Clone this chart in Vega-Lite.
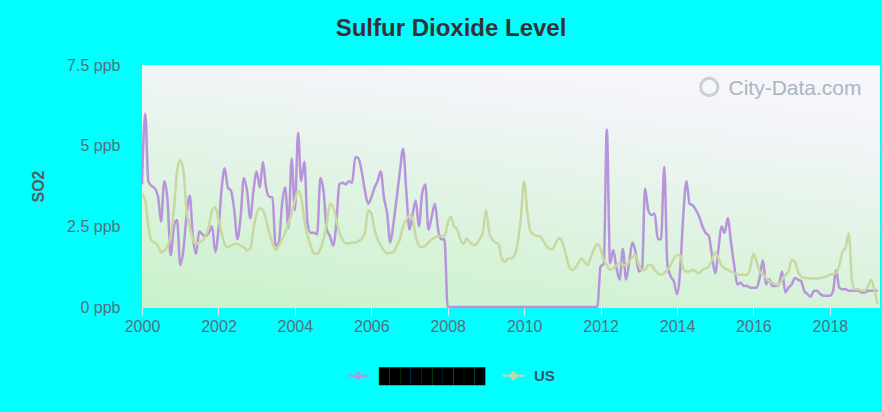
{
  "$schema": "https://vega.github.io/schema/vega-lite/v6.json",
  "width": 738,
  "height": 242,
  "autosize": {"type": "none"},
  "padding": {"left": 142, "top": 65, "right": 2, "bottom": 105},
  "background": "#00ffff",
  "config": {"font": "Liberation Sans", "view": {"stroke": null}},
  "title": {"text": "Sulfur Dioxide Level", "fontSize": 24, "fontWeight": "bold", "color": "#333333", "anchor": "middle", "dx": -60, "offset": 16},
  "data": {"values": [
    {"date":"2000-01","local":3.8,"US":3.5},{"date":"2000-02","local":6.0,"US":3.3},{"date":"2000-03","local":3.9,"US":2.5},{"date":"2000-04","local":3.75,"US":2.05},{"date":"2000-05","local":3.68,"US":2.0},{"date":"2000-06","local":3.45,"US":1.9},{"date":"2000-07","local":2.65,"US":1.7},{"date":"2000-08","local":3.9,"US":1.75},{"date":"2000-09","local":3.3,"US":1.9},{"date":"2000-10","local":1.6,"US":2.2},{"date":"2000-11","local":2.5,"US":3.0},{"date":"2000-12","local":2.7,"US":4.2},
    {"date":"2001-01","local":1.3,"US":4.55},{"date":"2001-02","local":1.8,"US":4.2},{"date":"2001-03","local":2.8,"US":3.0},{"date":"2001-04","local":3.45,"US":2.5},{"date":"2001-05","local":2.2,"US":2.1},{"date":"2001-06","local":1.65,"US":1.95},{"date":"2001-07","local":2.35,"US":2.0},{"date":"2001-08","local":2.25,"US":2.05},{"date":"2001-09","local":2.2,"US":2.2},{"date":"2001-10","local":2.3,"US":2.5},{"date":"2001-11","local":2.5,"US":3.0},{"date":"2001-12","local":1.7,"US":3.1},
    {"date":"2002-01","local":2.4,"US":2.7},{"date":"2002-02","local":3.7,"US":2.3},{"date":"2002-03","local":4.3,"US":1.95},{"date":"2002-04","local":3.7,"US":1.85},{"date":"2002-05","local":3.6,"US":1.9},{"date":"2002-06","local":3.0,"US":1.95},{"date":"2002-07","local":2.1,"US":1.95},{"date":"2002-08","local":2.8,"US":1.9},{"date":"2002-09","local":4.0,"US":1.85},{"date":"2002-10","local":3.6,"US":1.75},{"date":"2002-11","local":2.75,"US":1.8},{"date":"2002-12","local":3.6,"US":2.4},
    {"date":"2003-01","local":4.2,"US":2.9},{"date":"2003-02","local":3.7,"US":3.05},{"date":"2003-03","local":4.5,"US":3.0},{"date":"2003-04","local":3.7,"US":2.7},{"date":"2003-05","local":3.42,"US":2.3},{"date":"2003-06","local":3.4,"US":2.0},{"date":"2003-07","local":1.9,"US":1.77},{"date":"2003-08","local":2.0,"US":1.9},{"date":"2003-09","local":3.2,"US":2.1},{"date":"2003-10","local":3.7,"US":2.3},{"date":"2003-11","local":2.45,"US":2.6},{"date":"2003-12","local":4.6,"US":2.9},
    {"date":"2004-01","local":3.0,"US":3.3},{"date":"2004-02","local":5.4,"US":3.6},{"date":"2004-03","local":3.9,"US":3.4},{"date":"2004-04","local":4.5,"US":2.7},{"date":"2004-05","local":2.6,"US":2.2},{"date":"2004-06","local":2.3,"US":1.9},{"date":"2004-07","local":2.3,"US":1.65},{"date":"2004-08","local":2.25,"US":1.65},{"date":"2004-09","local":4.0,"US":1.8},{"date":"2004-10","local":3.6,"US":2.1},{"date":"2004-11","local":2.4,"US":2.6},{"date":"2004-12","local":2.2,"US":3.2},
    {"date":"2005-01","local":1.9,"US":3.1},{"date":"2005-02","local":2.6,"US":2.7},{"date":"2005-03","local":3.8,"US":2.3},{"date":"2005-04","local":3.85,"US":2.1},{"date":"2005-05","local":3.8,"US":1.97},{"date":"2005-06","local":3.9,"US":1.97},{"date":"2005-07","local":3.85,"US":2.0},{"date":"2005-08","local":4.65,"US":2.0},{"date":"2005-09","local":4.6,"US":2.05},{"date":"2005-10","local":4.2,"US":2.1},{"date":"2005-11","local":3.6,"US":2.3},{"date":"2005-12","local":3.2,"US":3.0},
    {"date":"2006-01","local":3.4,"US":2.9},{"date":"2006-02","local":3.7,"US":2.4},{"date":"2006-03","local":3.9,"US":2.1},{"date":"2006-04","local":4.2,"US":1.9},{"date":"2006-05","local":3.4,"US":1.75},{"date":"2006-06","local":2.9,"US":1.66},{"date":"2006-07","local":2.0,"US":1.68},{"date":"2006-08","local":2.6,"US":1.7},{"date":"2006-09","local":3.4,"US":1.9},{"date":"2006-10","local":4.2,"US":2.1},{"date":"2006-11","local":4.9,"US":2.5},{"date":"2006-12","local":3.6,"US":2.7},
    {"date":"2007-01","local":2.4,"US":2.85},{"date":"2007-02","local":2.9,"US":2.7},{"date":"2007-03","local":3.3,"US":2.2},{"date":"2007-04","local":2.5,"US":1.9},{"date":"2007-05","local":3.5,"US":1.85},{"date":"2007-06","local":3.8,"US":1.9},{"date":"2007-07","local":2.4,"US":2.0},{"date":"2007-08","local":2.8,"US":2.1},{"date":"2007-09","local":3.2,"US":2.15},{"date":"2007-10","local":2.4,"US":2.2},{"date":"2007-11","local":2.1,"US":2.2},{"date":"2007-12","local":2.1,"US":2.2},
    {"date":"2008-01","local":0,"US":2.6},{"date":"2008-02","local":0,"US":2.8},{"date":"2008-03","local":0,"US":2.5},{"date":"2008-04","local":0,"US":2.4},{"date":"2008-05","local":0,"US":2.1},{"date":"2008-06","local":0,"US":1.95},{"date":"2008-07","local":0,"US":2.13},{"date":"2008-08","local":0,"US":2.0},{"date":"2008-09","local":0,"US":1.92},{"date":"2008-10","local":0,"US":1.95},{"date":"2008-11","local":0,"US":2.1},{"date":"2008-12","local":0,"US":2.3},
    {"date":"2009-01","local":0,"US":3.0},{"date":"2009-02","local":0,"US":2.3},{"date":"2009-03","local":0,"US":2.1},{"date":"2009-04","local":0,"US":2.0},{"date":"2009-05","local":0,"US":1.95},{"date":"2009-06","local":0,"US":1.5},{"date":"2009-07","local":0,"US":1.4},{"date":"2009-08","local":0,"US":1.5},{"date":"2009-09","local":0,"US":1.5},{"date":"2009-10","local":0,"US":1.6},{"date":"2009-11","local":0,"US":2.0},{"date":"2009-12","local":0,"US":2.8},
    {"date":"2010-01","local":0,"US":3.9},{"date":"2010-02","local":0,"US":2.9},{"date":"2010-03","local":0,"US":2.35},{"date":"2010-04","local":0,"US":2.25},{"date":"2010-05","local":0,"US":2.2},{"date":"2010-06","local":0,"US":2.2},{"date":"2010-07","local":0,"US":2.05},{"date":"2010-08","local":0,"US":1.9},{"date":"2010-09","local":0,"US":1.8},{"date":"2010-10","local":0,"US":1.8},{"date":"2010-11","local":0,"US":2.0},{"date":"2010-12","local":0,"US":2.13},
    {"date":"2011-01","local":0,"US":2.0},{"date":"2011-02","local":0,"US":1.65},{"date":"2011-03","local":0,"US":1.3},{"date":"2011-04","local":0,"US":1.15},{"date":"2011-05","local":0,"US":1.2},{"date":"2011-06","local":0,"US":1.35},{"date":"2011-07","local":0,"US":1.5},{"date":"2011-08","local":0,"US":1.4},{"date":"2011-09","local":0,"US":1.3},{"date":"2011-10","local":0,"US":1.55},{"date":"2011-11","local":0,"US":1.8},{"date":"2011-12","local":0,"US":1.95},
    {"date":"2012-01","local":1.25,"US":1.8},{"date":"2012-02","local":1.35,"US":1.45},{"date":"2012-03","local":5.5,"US":1.3},{"date":"2012-04","local":1.35,"US":1.15},{"date":"2012-05","local":1.77,"US":1.2},{"date":"2012-06","local":1.2,"US":1.3},{"date":"2012-07","local":0.85,"US":1.35},{"date":"2012-08","local":1.8,"US":1.3},{"date":"2012-09","local":0.85,"US":1.3},{"date":"2012-10","local":1.4,"US":1.4},{"date":"2012-11","local":2.0,"US":1.56},{"date":"2012-12","local":1.7,"US":1.6},
    {"date":"2013-01","local":1.1,"US":1.3},{"date":"2013-02","local":1.2,"US":1.15},{"date":"2013-03","local":3.67,"US":1.15},{"date":"2013-04","local":3.0,"US":1.3},{"date":"2013-05","local":2.85,"US":1.3},{"date":"2013-06","local":2.9,"US":1.15},{"date":"2013-07","local":2.1,"US":1.05},{"date":"2013-08","local":2.1,"US":1.0},{"date":"2013-09","local":4.35,"US":1.05},{"date":"2013-10","local":1.3,"US":1.15},{"date":"2013-11","local":0.95,"US":1.3},{"date":"2013-12","local":0.8,"US":1.5},
    {"date":"2014-01","local":0.4,"US":1.6},{"date":"2014-02","local":1.2,"US":1.6},{"date":"2014-03","local":2.8,"US":1.2},{"date":"2014-04","local":3.9,"US":1.1},{"date":"2014-05","local":3.2,"US":1.1},{"date":"2014-06","local":3.15,"US":1.15},{"date":"2014-07","local":3.0,"US":1.1},{"date":"2014-08","local":2.8,"US":1.05},{"date":"2014-09","local":2.5,"US":1.15},{"date":"2014-10","local":2.3,"US":1.2},{"date":"2014-11","local":2.2,"US":1.25},{"date":"2014-12","local":1.6,"US":1.45},
    {"date":"2015-01","local":1.05,"US":1.7},{"date":"2015-02","local":1.8,"US":1.5},{"date":"2015-03","local":2.5,"US":1.3},{"date":"2015-04","local":2.3,"US":1.2},{"date":"2015-05","local":2.75,"US":1.15},{"date":"2015-06","local":2.0,"US":1.1},{"date":"2015-07","local":1.3,"US":1.05},{"date":"2015-08","local":0.7,"US":1.0},{"date":"2015-09","local":0.75,"US":1.0},{"date":"2015-10","local":0.65,"US":1.0},{"date":"2015-11","local":0.65,"US":1.0},{"date":"2015-12","local":0.6,"US":1.2},
    {"date":"2016-01","local":0.6,"US":1.65},{"date":"2016-02","local":0.6,"US":1.4},{"date":"2016-03","local":0.9,"US":1.1},{"date":"2016-04","local":1.45,"US":1.0},{"date":"2016-05","local":0.7,"US":0.9},{"date":"2016-06","local":0.85,"US":0.8},{"date":"2016-07","local":0.65,"US":0.75},{"date":"2016-08","local":0.65,"US":0.7},{"date":"2016-09","local":0.7,"US":0.7},{"date":"2016-10","local":1.1,"US":0.85},{"date":"2016-11","local":0.45,"US":1.0},{"date":"2016-12","local":0.6,"US":1.1},
    {"date":"2017-01","local":0.7,"US":1.46},{"date":"2017-02","local":0.9,"US":1.4},{"date":"2017-03","local":0.85,"US":1.1},{"date":"2017-04","local":0.8,"US":0.95},{"date":"2017-05","local":0.5,"US":0.9},{"date":"2017-06","local":0.4,"US":0.9},{"date":"2017-07","local":0.32,"US":0.88},{"date":"2017-08","local":0.5,"US":0.88},{"date":"2017-09","local":0.5,"US":0.88},{"date":"2017-10","local":0.4,"US":0.9},{"date":"2017-11","local":0.35,"US":0.92},{"date":"2017-12","local":0.35,"US":0.95},
    {"date":"2018-01","local":0.35,"US":1.0},{"date":"2018-02","local":0.5,"US":1.02},{"date":"2018-03","local":1.15,"US":1.05},{"date":"2018-04","local":0.6,"US":1.3},{"date":"2018-05","local":0.55,"US":1.7},{"date":"2018-06","local":0.55,"US":1.85},{"date":"2018-07","local":0.5,"US":2.28},{"date":"2018-08","local":0.5,"US":0.8},{"date":"2018-09","local":0.5,"US":0.55},{"date":"2018-10","local":0.5,"US":0.55},{"date":"2018-11","local":0.45,"US":0.5},{"date":"2018-12","local":0.45,"US":0.5},
    {"date":"2019-01","local":0.5,"US":0.65},{"date":"2019-02","local":0.5,"US":0.84},{"date":"2019-03","local":0.5,"US":0.55},{"date":"2019-04","local":0.5,"US":0.1}
  ]},
  "layer": [
    {
      "data": {"values": [{}]},
      "mark": {"type": "rect", "color": {"gradient": "linear", "x1": 0, "y1": 1, "x2": 0.35, "y2": 0, "stops": [{"offset": 0, "color": "#c9f2c9"}, {"offset": 1, "color": "#f5f5fb"}]}},
      "encoding": {
        "x": {"datum": {"year": 2000, "month": 1, "date": 1}, "type": "temporal"},
        "x2": {"datum": {"year": 2019, "month": 4, "date": 25}},
        "y": {"datum": 0, "type": "quantitative"},
        "y2": {"datum": 7.5}
      }
    },
    {
      "data": {"values": [{"t": "City-Data.com"}]},
      "mark": {"type": "point", "shape": "circle", "filled": false, "size": 300, "strokeWidth": 3, "color": "#b6c0c6"},
      "encoding": {
        "x": {"datum": {"year": 2014, "month": 11, "date": 5}, "type": "temporal"},
        "y": {"datum": 6.82, "type": "quantitative"}
      }
    },
    {
      "data": {"values": [{"t": "City-Data.com"}]},
      "mark": {"type": "text", "fontSize": 21, "color": "#aab6bd", "align": "left", "baseline": "middle", "font": "Liberation Sans"},
      "encoding": {
        "x": {"datum": {"year": 2015, "month": 5, "date": 8}, "type": "temporal"},
        "y": {"datum": 6.75, "type": "quantitative"},
        "text": {"field": "t"}
      }
    },
    {
      "transform": [{"fold": ["local", "US"], "as": ["series", "so2"]}],
      "mark": {"type": "line", "interpolate": "monotone", "strokeWidth": 2.5},
      "encoding": {
        "x": {
          "field": "date", "type": "temporal",
          "scale": {"domain": [{"year": 2000, "month": 1, "date": 1}, {"year": 2019, "month": 4, "date": 25}]},
          "axis": {"title": null, "format": "%Y", "tickCount": {"interval": "year", "step": 2}, "grid": false, "domain": false, "tickSize": 8, "tickColor": "#d4ecec", "labelFontSize": 16, "labelColor": "#557080", "labelPadding": 3, "labelFlush": false}
        },
        "y": {
          "field": "so2", "type": "quantitative",
          "scale": {"domain": [0, 7.5], "nice": false},
          "axis": {"title": "SO2", "titleFontSize": 16, "titleFontWeight": "bold", "titleColor": "#555d66", "titlePadding": 20, "values": [0, 2.5, 5, 7.5], "labelExpr": "datum.value + ' ppb'", "labelFontSize": 16, "labelColor": "#557080", "labelPadding": 22, "ticks": false, "domain": false, "grid": true, "gridColor": "#dfe8e0", "gridWidth": 1}
        },
        "color": {
          "field": "series", "type": "nominal",
          "scale": {"domain": ["local", "US"], "range": ["#b794dc", "#c8d8a0"]},
          "legend": {
            "title": null, "orient": "none", "legendX": 204, "legendY": 298, "direction": "horizontal",
            "symbolType": "M-1,0L1,0M-0.3,0L0,-0.3L0.3,0L0,0.3Z", "symbolSize": 500, "symbolStrokeWidth": 2,
            "labelFontSize": 15, "labelFontWeight": "bold", "labelColor": "#2f5866", "labelOffset": 8, "columnPadding": 12,
            "labelExpr": "datum.value == 'local' ? '██████████' : 'US'",
            "labelLimit": 300,
            "encode": {"labels": {"update": {"fill": {"signal": "datum.value == 'local' ? '#000000' : '#2f5866'"}}}}
          }
        }
      }
    }
  ]
}
